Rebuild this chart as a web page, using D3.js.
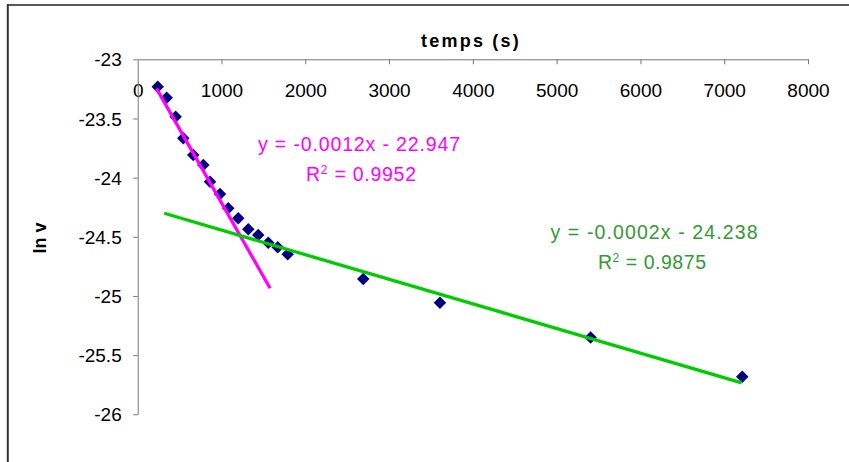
<!DOCTYPE html>
<html>
<head>
<meta charset="utf-8">
<script src="https://cdn.jsdelivr.net/npm/d3@7"></script>
<style>
  html, body { margin: 0; padding: 0; background: #fff; }
  svg { display: block; font-family: Arial, "Liberation Sans", sans-serif; }
</style>
</head>
<body>
<svg id="chart" width="849" height="462"></svg>
<script>
// ---- data ----
const timeS = [239, 346, 453, 544, 663, 783, 863, 982, 1081, 1200, 1320, 1439, 1558, 1671, 1790, 2692, 3607, 5406, 7215];
const lnV = [-23.232, -23.325, -23.485, -23.668, -23.809, -23.893, -24.034, -24.138, -24.259, -24.344, -24.437, -24.485, -24.550, -24.589, -24.648, -24.857, -25.057, -25.350, -25.683];

const xTicks = [0, 1000, 2000, 3000, 4000, 5000, 6000, 7000, 8000];
const yTicks = [-23, -23.5, -24, -24.5, -25, -25.5, -26];

// trendlines: [slope, intercept], [xStart, xEnd]
const fastFit = [-0.001245, -22.968];
const fastRange = [225, 1580];
const slowFit = [-0.000208, -24.235];
const slowRange = [317, 7208];

const fastLabel = ["y = -0.0012x - 22.947", "0.9952"];
const slowLabel = ["y = -0.0002x - 24.238", "0.9875"];
const xTitle = "temps (s)";
const yTitle = "ln v";

// ---- drawing ----
const svg = d3.select("#chart");
const x = d3.scaleLinear().domain([0, 8000]).range([137.7, 808]);
const y = d3.scaleLinear().domain([-23, -26]).range([59.3, 414.3]);

// outer frame (top + left visible)
svg.append("line").attr("x1", 7).attr("x2", 849).attr("y1", 5).attr("y2", 5)
  .attr("stroke", "#222").attr("stroke-width", 1.6);
svg.append("line").attr("x1", 7.8).attr("x2", 7.8).attr("y1", 4.2).attr("y2", 462)
  .attr("stroke", "#333").attr("stroke-width", 2);

// x axis at top, ticks pointing down, labels below the line
const xAxis = d3.axisBottom(x).tickValues(xTicks).tickSize(5).tickSizeOuter(0).tickFormat(d3.format("d"));
const gx = svg.append("g").attr("transform", `translate(0,${y(-23)})`).call(xAxis);
gx.select(".domain").attr("stroke", "#777");
gx.selectAll(".tick line").attr("stroke", "#777");
gx.selectAll(".tick").filter(d => d === 0).select("line").remove();
gx.selectAll(".tick text").attr("font-size", 19).attr("fill", "#000")
  .attr("font-family", "Arial, 'Liberation Sans', sans-serif")
  .attr("y", 0).attr("dy", 0).attr("transform", "translate(0,37.5)");

// y axis
const yAxis = d3.axisLeft(y).tickValues(yTicks).tickSize(4.5).tickSizeOuter(0).tickFormat(d => String(d));
const gy = svg.append("g").attr("transform", `translate(${x(0)},0)`).call(yAxis);
gy.select(".domain").attr("stroke", "#777");
gy.selectAll(".tick line").attr("stroke", "#777");
gy.selectAll(".tick text").attr("font-size", 19).attr("fill", "#000")
  .attr("font-family", "Arial, 'Liberation Sans', sans-serif")
  .attr("x", -16).attr("dy", "0.35em");

// axis titles
svg.append("text").attr("x", 471).attr("y", 47).attr("text-anchor", "middle")
  .attr("font-size", 18).attr("font-weight", "bold").attr("letter-spacing", 2.2)
  .text(xTitle);
svg.append("text").attr("transform", "translate(46,238) rotate(-90)")
  .attr("text-anchor", "middle").attr("font-size", 18).attr("font-weight", "bold")
  .text(yTitle);

// markers
const diamond = d3.symbol().type(d3.symbolSquare).size(78);
svg.append("g").selectAll("path").data(timeS.map((t, i) => [t, lnV[i]])).join("path")
  .attr("d", diamond)
  .attr("transform", d => `translate(${x(d[0])},${y(d[1])}) rotate(45)`)
  .attr("fill", "#000080");

// trendlines
function trend(fit, range, color) {
  const pts = range.map(t => [t, fit[0] * t + fit[1]]);
  svg.append("path")
    .attr("d", d3.line().x(d => x(d[0])).y(d => y(d[1]))(pts))
    .attr("stroke", color).attr("stroke-width", 3.3).attr("fill", "none");
}
trend(fastFit, fastRange, "#FF00FF");
trend(slowFit, slowRange, "#00CC00");

// equation labels
function eqLabel(lines, cx1, cy1, cx2, cy2, color, w1, w2) {
  svg.append("text").attr("x", cx1).attr("y", cy1).attr("text-anchor", "middle")
    .attr("font-size", 19.5).attr("fill", color)
    .attr("textLength", w1).attr("lengthAdjust", "spacing")
    .text(lines[0]);
  const t = svg.append("text").attr("x", cx2).attr("y", cy2).attr("text-anchor", "middle")
    .attr("font-size", 19.5).attr("fill", color)
    .attr("textLength", w2).attr("lengthAdjust", "spacing");
  t.append("tspan").text("R");
  t.append("tspan").attr("font-size", 12).attr("dy", -7).text("2");
  t.append("tspan").attr("dy", 7).text(" = " + lines[1]);
}
eqLabel(fastLabel, 359, 150.5, 361, 180.5, "#FF00FF", 202, 110);
eqLabel(slowLabel, 654, 238.5, 652, 268.5, "#339933", 207, 108);
</script>
</body>
</html>
